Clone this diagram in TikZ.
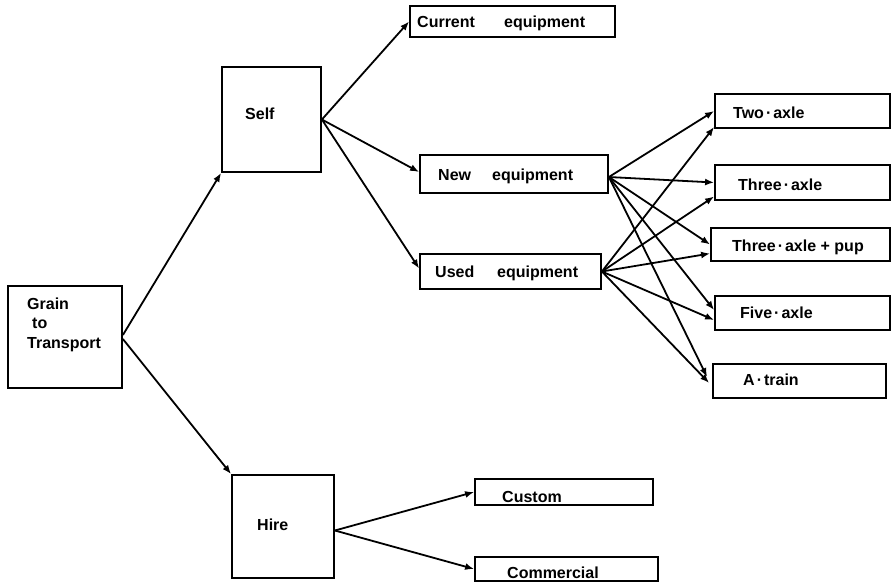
\documentclass[tikz,border=0pt]{standalone}
\usepackage{fontspec}
\setmainfont{Liberation Sans}
\usetikzlibrary{arrows.meta,calc}
\begin{document}
\begin{tikzpicture}[x=1pt,y=-1pt,
  box/.style={draw,line width=1.8pt,inner sep=0pt},
  lbl/.style={anchor=base west,inner sep=0pt,font=\bfseries\fontsize{16}{18}\selectfont},
  conn/.style={line width=1.8pt,-{Latex[length=9pt,width=7pt]}}]
\useasboundingbox (0,0) rectangle (892,582);
% boxes
\node[box,minimum width=114pt,minimum height=102pt] (grain) at (65,337) {};
\node[box,minimum width=99pt,minimum height=105pt] (self) at (271.5,119.5) {};
\node[box,minimum width=205pt,minimum height=31pt] (current) at (512.5,21.5) {};
\node[box,minimum width=188pt,minimum height=38pt] (new) at (514,174) {};
\node[box,minimum width=181pt,minimum height=35pt] (used) at (510.5,271.5) {};
\node[box,minimum width=175pt,minimum height=34pt] (two) at (802.5,111) {};
\node[box,minimum width=175pt,minimum height=35pt] (three) at (802.5,182.5) {};
\node[box,minimum width=179pt,minimum height=33pt] (pup) at (800.5,244.5) {};
\node[box,minimum width=175pt,minimum height=34pt] (five) at (802.5,313) {};
\node[box,minimum width=173pt,minimum height=34pt] (atrain) at (799.5,381) {};
\node[box,minimum width=102pt,minimum height=103pt] (hire) at (283,526.5) {};
\node[box,minimum width=178pt,minimum height=26pt] (custom) at (564,492) {};
\node[box,minimum width=183pt,minimum height=24pt] (commercial) at (566.5,569) {};
% labels
\node[lbl] (t1) at (27,309) {Grain};
\node[lbl] (t2) at (32,328) {to};
\node[lbl] (t3) at (27,348) {Transport};
\node[lbl] (t4) at (245,119) {Self};
\node[lbl] (t5) at (417,27) {Current};
\node[lbl] (t5b) at (504,27) {equipment};
\node[lbl] (t6) at (438,180) {New};
\node[lbl] (t6b) at (492,180) {equipment};
\node[lbl] (t7) at (435,277) {Used};
\node[lbl] (t7b) at (497,277) {equipment};
\node[lbl] (t8) at (733,118) {Two\hspace{2pt}·\hspace{2pt}axle};
\node[lbl] (t9) at (738,190) {Three\hspace{2pt}·\hspace{2pt}axle};
\node[lbl] (t10) at (732,251) {Three\hspace{2pt}·\hspace{2pt}axle + pup};
\node[lbl] (t11) at (740,318) {Five\hspace{2pt}·\hspace{2pt}axle};
\node[lbl] (t12) at (743,385) {A\hspace{2pt}·\hspace{2pt}train};
\node[lbl] (t13) at (257,530) {Hire};
\node[lbl] (t14) at (502,502) {Custom};
\node[lbl] (t15) at (507,578) {Commercial};
% connectors
\draw[conn] ([yshift=2pt]grain.east) -- (self.south west);
\draw[conn] ([yshift=-2pt]grain.east) -- (hire.north west);
\draw[conn] (self.east) -- (current.west);
\draw[conn] (self.east) -- ([yshift=2pt]new.west);
\draw[conn] (self.east) -- ([yshift=3pt]used.west);
\draw[conn] ([yshift=-3pt]new.east) -- (two.west);
\draw[conn] ([yshift=-3pt]new.east) -- (three.west);
\draw[conn] ([yshift=-3pt]new.east) -- (pup.west);
\draw[conn] ([yshift=-3pt]new.east) -- ([yshift=3pt]five.west);
\draw[conn] ([yshift=-3pt]new.east) -- ([xshift=-5pt,yshift=4pt]atrain.west);
\draw[conn] (used.east) -- ([yshift=-16pt]two.west);
\draw[conn] (used.east) -- ([yshift=-14pt]three.west);
\draw[conn] (used.east) -- ([yshift=-9pt]pup.west);
\draw[conn] (used.east) -- ([yshift=-7pt]five.west);
\draw[conn] (used.east) -- ([xshift=-3pt,yshift=-2pt]atrain.west);
\draw[conn] ([yshift=-4pt]hire.east) -- (custom.west);
\draw[conn] ([yshift=-4pt]hire.east) -- (commercial.west);
\end{tikzpicture}
\end{document}
